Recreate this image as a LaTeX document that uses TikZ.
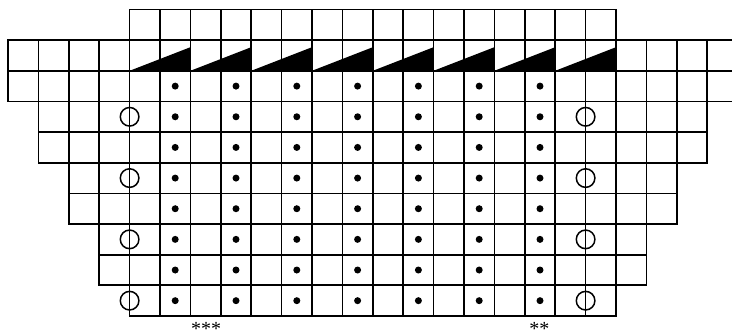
\documentclass[tikz,border=0pt]{standalone}
\usepackage{fontspec}
\setmainfont{Liberation Serif}
\begin{document}
\begin{tikzpicture}[x=1pt,y=-1pt]
\useasboundingbox (0,0) rectangle (732,336);
\clip (0,0) rectangle (732,336);
\begin{scope}[shift={(8,9.5)},x=30.4pt,y=-30.65pt,
  gridline/.style={line width=1.7pt,line cap=rect,black},
  ring/.style={line width=1.5pt,black},
  wedge/.style={fill=black},
  stitch/.style={fill=black},
  mark label/.style={font=\fontsize{20}{20}\selectfont,inner sep=0pt,anchor=base}]
  % grid bands
  \foreach \xa/\xb/\ya/\yb in {4/20/0/1, 0/25/1/3, 1/23/3/5, 2/22/5/7, 3/21/7/9, 4/20/9/10} {
    \foreach \i in {\xa,...,\xb}
      \draw[gridline] (\i,\ya) -- (\i,\yb);
    \foreach \j in {\ya,...,\yb}
      \draw[gridline] (\xa,\j) -- (\xb,\j);
  }
  % wedges
  \foreach \k in {0,...,7}
    \fill[wedge] ({4+2*\k},2) -- ({6+2*\k},2) -- ({6+2*\k},1.23) -- cycle;
  % dots
  \foreach \c in {5,7,...,17}
    \foreach \r in {2,...,9}
      \fill[stitch] (\c+0.5,\r+0.5) circle[radius=3.5pt];
  % rings
  \foreach \r in {3,5,7,9} {
    \draw[ring] (4,\r+0.5) circle[radius=9.3pt];
    \draw[ring] (19,\r+0.5) circle[radius=9.3pt];
  }
  % labels
  \node[mark label] (a3) at (6.52,10.63) {***};
  \node[mark label] (a2) at (17.48,10.63) {**};
\end{scope}
\end{tikzpicture}
\end{document}
